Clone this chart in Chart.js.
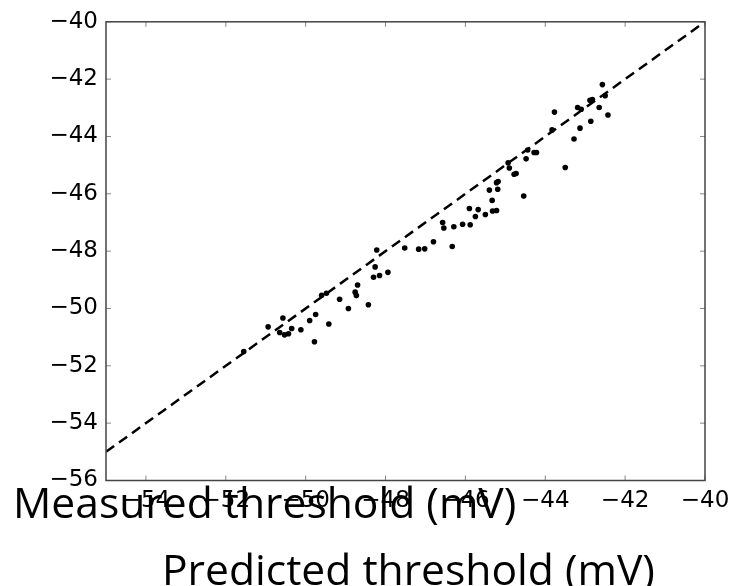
<!DOCTYPE html>
<html><head><meta charset="utf-8">
<script src="https://cdn.jsdelivr.net/npm/chart.js@4/dist/chart.umd.min.js"></script>
<style>html,body{margin:0;padding:0;background:#fff;}#wrap{width:738px;height:586px;}</style>
</head><body><div id="wrap"><canvas id="c" width="738" height="586"></canvas></div>
<script>
const predicted = [-51.55,-50.94,-50.57,-50.65,-50.53,-50.43,-50.35,-50.12,-49.90,-49.75,-49.78,-49.60,-49.48,-49.42,-49.15,-48.93,-48.70,-48.76,-48.73,-48.43,-48.22,-48.26,-48.30,-48.15,-47.94,-47.52,-47.17,-47.02,-46.80,-46.33,-46.57,-46.54,-46.29,-46.07,-45.88,-45.90,-45.68,-45.75,-45.50,-45.32,-45.22,-45.33,-45.40,-45.19,-45.22,-45.18,-44.90,-44.93,-44.78,-44.73,-44.54,-44.48,-44.44,-44.28,-44.22,-43.50,-43.83,-43.77,-43.28,-43.13,-43.19,-42.86,-42.88,-42.82,-42.65,-42.57,-42.50,-42.43,-43.10];
const measured = [-51.50,-50.64,-50.33,-50.84,-50.92,-50.88,-50.70,-50.74,-50.42,-50.21,-51.16,-49.54,-49.47,-50.54,-49.68,-50.00,-49.18,-49.43,-49.55,-49.87,-47.96,-48.55,-48.91,-48.85,-48.74,-47.89,-47.93,-47.92,-47.67,-47.84,-47.00,-47.19,-47.15,-47.06,-47.08,-46.51,-46.55,-46.79,-46.72,-46.60,-46.58,-46.23,-45.87,-45.84,-45.61,-45.57,-45.10,-44.92,-45.32,-45.29,-46.08,-44.78,-44.47,-44.56,-44.56,-45.08,-43.77,-43.15,-44.09,-43.71,-42.99,-43.47,-42.74,-42.71,-42.99,-42.19,-42.58,-43.25,-43.05];
const identityLine = [-55, -40];
const xTicks = [-54,-52,-50,-48,-46,-44,-42,-40];
const yTicks = [-56,-54,-52,-50,-48,-46,-44,-42,-40];
const xRange = [-55, -40];
const yRange = [-56, -40];
const xTitle = 'Predicted threshold (mV)';
const yTitle = 'Measured threshold (mV)';

const framePlugin = {
  id: 'frame',
  afterDraw(chart) {
    const {ctx, chartArea: a, scales: {x, y}} = chart;
    ctx.save();
    const line = (x1, y1, x2, y2) => { ctx.beginPath(); ctx.moveTo(x1, y1); ctx.lineTo(x2, y2); ctx.stroke(); };
    ctx.strokeStyle = '#888'; ctx.lineWidth = 1;
    const L = 5;
    xTicks.forEach(v => { const p = x.getPixelForValue(v); line(p, a.bottom, p, a.bottom - L); line(p, a.top, p, a.top + L); });
    yTicks.forEach(v => { const p = y.getPixelForValue(v); line(a.left, p, a.left + L, p); line(a.right, p, a.right - L, p); });
    ctx.strokeStyle = '#444'; ctx.lineWidth = 1.5;
    ctx.strokeRect(a.left, a.top, a.right - a.left, a.bottom - a.top);
    ctx.fillStyle = '#000';
    ctx.font = '42.6px "Open Sans"';
    ctx.textBaseline = 'alphabetic';
    ctx.textAlign = 'left';
    ctx.fillText(yTitle, 13, 518);
    ctx.fillText(xTitle, 162, 585);
    ctx.restore();
  }
};

function makeChart() {
  new Chart(document.getElementById('c'), {
    type: 'scatter',
    data: {
      datasets: [
        {
          label: 'cells',
          data: predicted.map((v, i) => ({x: v, y: measured[i]})),
          backgroundColor: '#000', borderColor: '#000',
          pointRadius: 2.8, pointBorderWidth: 0, order: 0
        },
        {
          label: 'identity',
          data: identityLine.map(v => ({x: v, y: v})),
          showLine: true, borderColor: '#000', borderWidth: 2.5,
          borderDash: [10, 6], pointRadius: 0, order: 1
        }
      ]
    },
    options: {
      responsive: false, animation: false, devicePixelRatio: 1,
      layout: {padding: {top: 16.5, right: 33, left: 0, bottom: 0}},
      plugins: {legend: {display: false}, tooltip: {enabled: false}},
      scales: {
        x: {
          type: 'linear', min: xRange[0], max: xRange[1],
          grid: {display: false, drawTicks: false}, border: {display: false},
          afterBuildTicks: s => { s.ticks = xTicks.map(v => ({value: v})); },
          afterFit: s => { s.height = 105.5; },
          ticks: {color: '#000', padding: 7, font: {family: 'DejaVu Sans', size: 23},
                  maxRotation: 0, autoSkip: false,
                  callback: v => String(v).replace('-', '\u2212')}
        },
        y: {
          type: 'linear', min: yRange[0], max: yRange[1],
          grid: {display: false, drawTicks: false}, border: {display: false},
          afterBuildTicks: s => { s.ticks = yTicks.map(v => ({value: v})); },
          afterFit: s => { s.width = 106; },
          ticks: {color: '#000', padding: 8, font: {family: 'DejaVu Sans', size: 23},
                  autoSkip: false,
                  callback: v => String(v).replace('-', '\u2212')}
        }
      }
    },
    plugins: [framePlugin]
  });
}
Promise.all([
  document.fonts.load('42px "Open Sans"'),
  document.fonts.load('23px "DejaVu Sans"')
]).then(makeChart, makeChart);
</script>
</body></html>
